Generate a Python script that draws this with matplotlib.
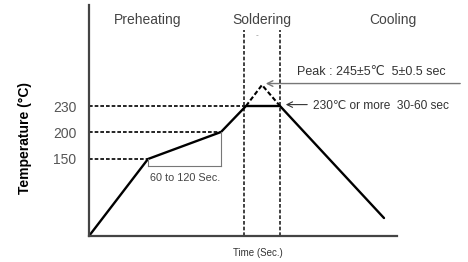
import numpy as np
import matplotlib
matplotlib.use("Agg")
import matplotlib.pyplot as plt
from matplotlib.scale import FuncScale

# ---- data (schematic reflow profile) ----
profile_time = [0, 59, 132, 157, 191, 295]
profile_temp = [0, 150, 200, 230, 230, 35]
peak_time = [157, 173, 191]
peak_temp = [230, 245, 230]
ref_temps = [150, 200, 230]
ref_times = [59, 132, 156]
zone_bounds = [155, 191]
tick_labels = ["150", "200", "230"]
phase_names = ["Preheating", "Soldering", "Cooling"]
phase_centers = [59, 173, 304]

# piecewise mapping of the schematic temperature axis
scale_T = [0, 150, 200, 230, 245, 300]
scale_h = [0, 77, 104, 130, 151, 231]

def fwd(v):
    return np.interp(v, scale_T, scale_h)

def inv(v):
    return np.interp(v, scale_h, scale_T)

plt.rcParams['font.family'] = ['Liberation Sans', 'DejaVu Sans']

fig = plt.figure(figsize=(4.68, 2.62), dpi=100)
ax = fig.add_axes([89/468, 1-236/262, (397-89)/468, 231/262])
ax.set_yscale(FuncScale(ax, (fwd, inv)))
ax.set_xlim(0, 308)
ax.set_ylim(0, 300)

for s in ['top', 'right']:
    ax.spines[s].set_visible(False)
for s in ['left', 'bottom']:
    ax.spines[s].set_color('#444444')
    ax.spines[s].set_linewidth(1.6)

ax.set_xticks([])
ax.set_yticks(ref_temps)
ax.set_yticklabels(tick_labels, color='#555555', fontsize=10)
ax.tick_params(axis='y', length=0, pad=9)

dash = (0, (2.2, 1.2))
# reference dashed lines
for T, t in zip(ref_temps, ref_times):
    ax.plot([0, t], [T, T], color='black', lw=1.2, ls=dash)

# zone boundaries
for b in zone_bounds:
    ax.plot([b, b], [0, 283], color='#222222', lw=1.2, ls=dash)

# profile
ax.plot(profile_time, profile_temp, color='black', lw=1.7, solid_capstyle='round')
ax.plot(peak_time, peak_temp, color='black', lw=1.5, ls=dash)

# bracket 60 to 120 sec
gray = '#777777'
ax.plot([profile_time[1], profile_time[1]], [150, 137], color=gray, lw=0.8)
ax.plot([profile_time[2], profile_time[2]], [200, 137], color=gray, lw=0.8)
ax.plot([profile_time[1], profile_time[2]], [137, 137], color=gray, lw=0.8)
ax.text(profile_time[1] + 2, 113, "60 to 120 Sec.", fontsize=7.8, color='#444444',
        ha='left', va='center')

# phase labels
for name, c in zip(phase_names, phase_centers):
    ax.text(c, 290, name, fontsize=10, color='#444444', ha='center', va='center')
ax.text(168, 279, "-", fontsize=6, color='#888888', ha='center', va='center')

# peak annotation
ax.annotate("", xy=(174, 246), xytext=(374, 246), annotation_clip=False,
            arrowprops=dict(arrowstyle='->', color='#777777', lw=1.0))
ax.text(208, 254, "Peak : 245±5℃  5±0.5 sec", fontsize=9, color='#333333',
        ha='left', va='center')
ax.annotate("", xy=(194, 231), xytext=(221, 231), annotation_clip=False,
            arrowprops=dict(arrowstyle='->', color='#333333', lw=0.8))
ax.text(224, 230, "230℃ or more  30-60 sec", fontsize=8.6, color='#333333',
        ha='left', va='center')

fig.text(25/468, 1-138/262, "Temperature (°C)", rotation=90, fontsize=10,
         color='black', ha='center', va='center', weight='bold')
fig.text(258/468, 1-253/262, "Time (Sec.)", fontsize=7, color='#333333',
         ha='center', va='center')

fig.savefig("out.png", dpi=100)
